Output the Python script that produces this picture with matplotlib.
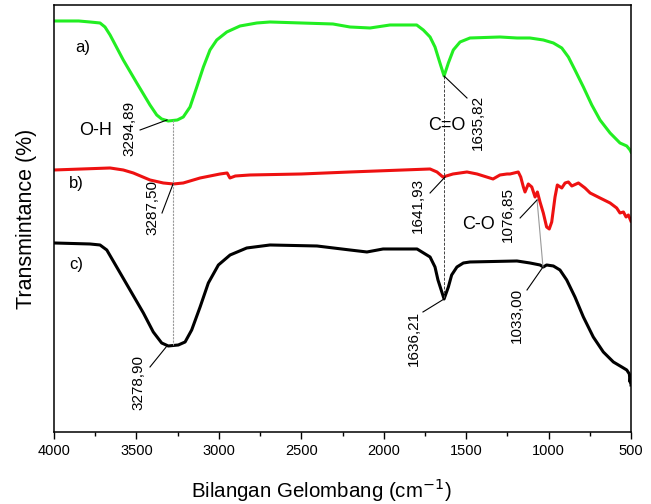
import matplotlib
matplotlib.use("Agg")
import matplotlib.pyplot as plt
import numpy as np

plt.rcParams["font.family"] = ["Liberation Sans", "DejaVu Sans"]

# --- data (wavenumber cm-1, relative transmittance) ---
wn_a = [4000, 3850, 3782, 3721, 3691, 3660, 3580, 3498, 3418, 3377, 3347, 3307,
        3252, 3216, 3175, 3134, 3094, 3054, 3013, 2952, 2872, 2770, 2690, 2500,
        2308, 2205, 2083, 1962, 1800, 1760, 1719, 1689, 1659, 1634, 1608, 1578,
        1537, 1477, 1295, 1192, 1113, 1032, 971, 920, 880, 840, 789, 738, 688,
        627, 567, 526, 506, 500]
t_a = [411, 411, 410, 409, 405, 397, 372, 349, 327, 317, 313, 311,
       312, 315, 325, 345, 365, 382, 392, 400, 406, 409, 410, 409,
       408, 405, 404, 407, 407, 402, 395, 385, 369, 356, 369, 382,
       390, 394, 395, 394, 394, 392, 389, 384, 375, 362, 345, 327, 312,
       299, 289, 286, 282, 280]

wn_b = [4000, 3660, 3580, 3519, 3418, 3337, 3276, 3216, 3114, 2993, 2950, 2933,
        2900, 2811, 2500, 2205, 1719, 1677, 1641, 1580, 1495, 1434, 1337, 1295,
        1252, 1234, 1184, 1169, 1153, 1143, 1123, 1102, 1082, 1068, 1052, 1032,
        1012, 996, 981, 961, 947, 920, 900, 880, 859, 819, 779, 748, 688, 627,
        587, 567, 546, 530, 516, 501]
t_b = [262, 264, 262, 259, 252, 249, 248, 249, 254, 258, 259, 254,
       256, 257, 258, 260, 263, 260, 255, 258, 260, 258, 253, 257,
       258, 258, 260, 255, 245, 240, 248, 245, 235, 240, 230, 219,
       205, 203, 210, 235, 247, 244, 249, 250, 246, 249, 244, 239, 234, 229,
       224, 219, 220, 215, 217, 211]

wn_c = [4000, 3782, 3721, 3680, 3620, 3539, 3458, 3398, 3347, 3307, 3246, 3205,
        3165, 3114, 3064, 3003, 2932, 2831, 2690, 2405, 2205, 2102, 2004, 1798,
        1719, 1689, 1671, 1634, 1608, 1588, 1556, 1517, 1477, 1192, 1113, 1052,
        1032, 1012, 971, 931, 890, 840, 789, 729, 668, 607, 556, 526, 510, 506,
        502, 500]
t_c = [189, 188, 187, 182, 165, 142, 119, 100, 89, 86, 87, 90,
       102, 125, 149, 167, 177, 184, 187, 186, 182, 180, 183, 183,
       175, 165, 152, 133, 145, 157, 165, 169, 170, 171, 169, 167,
       165, 167, 166, 162, 152, 135, 115, 95, 80, 70, 65, 62, 58, 50,
       56, 47]

series_labels = ["a)", "b)", "c)"]
xticks = [4000, 3500, 3000, 2500, 2000, 1500, 1000, 500]

fig = plt.figure(figsize=(6.51, 5.04), dpi=100)
ax = fig.add_axes([0.083, 0.1429, 0.8863, 0.8472])

ax.plot(wn_a, t_a, color="#22ee22", lw=2.2)
ax.plot(wn_b, t_b, color="#ee1111", lw=2.2)
ax.plot(wn_c, t_c, color="black", lw=2.2)

ax.set_xlim(4000, 500)
ax.set_ylim(0, 427)
ax.set_xticks(xticks)
ax.set_xticks(np.arange(3750, 500, -500), minor=True)
ax.tick_params(axis="x", which="major", direction="out", length=5, width=1, labelsize=10.5)
ax.tick_params(axis="x", which="minor", direction="out", length=3, width=1)
ax.set_yticks([])
for s in ax.spines.values():
    s.set_linewidth(1.1)

ax.set_xlabel("Bilangan Gelombang (cm$^{-1}$)", fontsize=14.8)
ax.xaxis.set_label_coords(0.463, -0.105)
ax.set_ylabel("Transmintance (%)", fontsize=15.5)
ax.yaxis.set_label_coords(-0.03, 0.5)

# guide lines
ax.plot([3278, 3278], [312, 87], color="#999999", lw=0.8, ls=(0, (2, 1)))
ax.plot([1636, 1636], [356, 133], color="#444444", lw=0.7, ls=(0, (3, 1.5)))
ax.plot([1070, 1034], [232, 165], color="#999999", lw=0.8)

# curve labels
for lbl, (x, y) in zip(series_labels, [(3824, 384), (3867, 248), (3867, 167)]):
    ax.text(x, y, lbl, fontsize=12, ha="center", va="center")

for txt, (x, y) in [("O-H", (3751, 301)), ("C=O", (1616, 306)), ("C-O", (1428, 207))]:
    ax.text(x, y, txt, fontsize=13, ha="center", va="center")

# peak labels with leader lines
peaks = [
    ("3294,89", (3545, 304), (3478, 302), (3315, 312)),
    ("3287,50", (3406, 224), (3345, 219), (3278, 248)),
    ("3278,90", (3490, 49), (3418, 65), (3315, 86)),
    ("1635,82", (1428, 310), (1495, 334), (1634, 356)),
    ("1641,93", (1792, 227), (1719, 239), (1628, 255)),
    ("1076,85", (1246, 217), (1173, 214), (1070, 232)),
    ("1636,21", (1816, 94), (1762, 120), (1634, 133)),
    ("1033,00", (1192, 117), (1131, 142), (1034, 165)),
]
for txt, (tx, ty), p0, p1 in peaks:
    ax.text(tx, ty, txt, rotation=90, fontsize=11, ha="center", va="center")
    ax.plot([p0[0], p1[0]], [p0[1], p1[1]], color="black", lw=0.8)

fig.savefig("out.png", dpi=100)
